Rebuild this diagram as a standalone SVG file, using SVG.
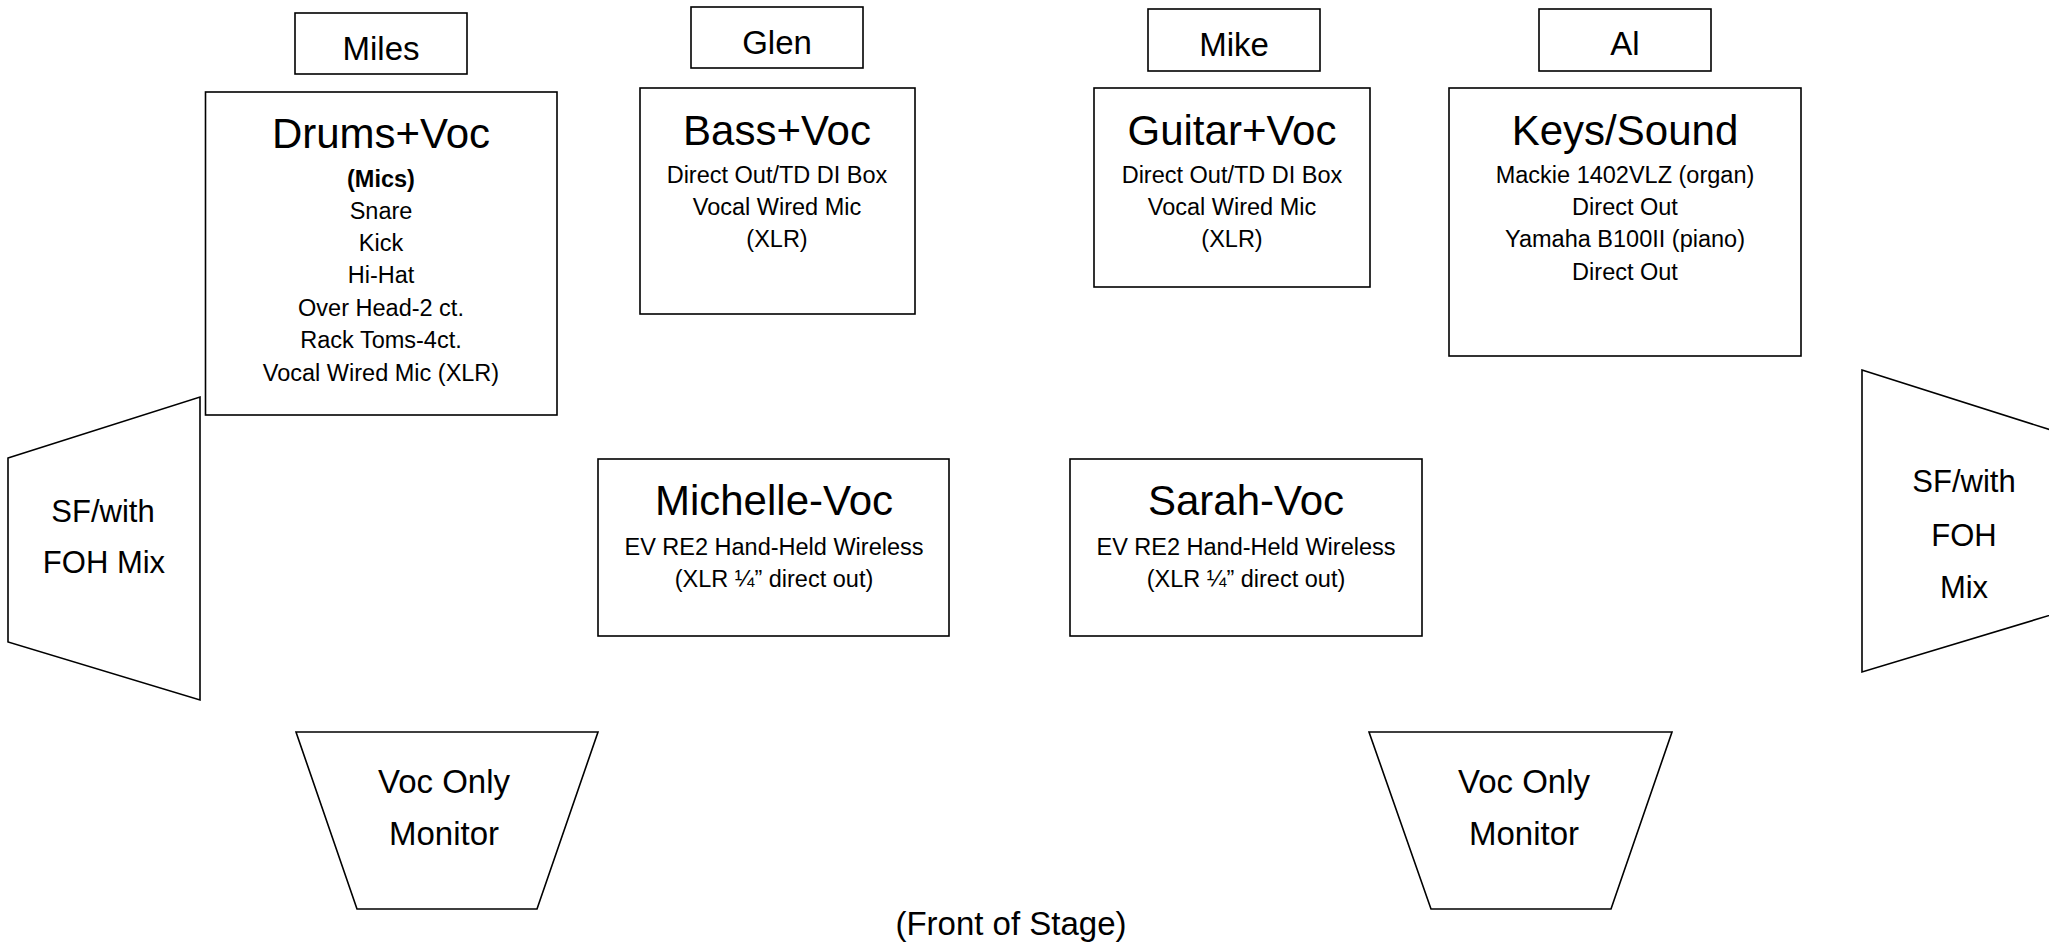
<svg xmlns="http://www.w3.org/2000/svg" width="2049" height="947" viewBox="0 0 2049 947">
<style>
.b{fill:#fff;stroke:#000;stroke-width:1.6}
text{font-family:"Liberation Sans",Arial,sans-serif;fill:#000;text-anchor:middle}
.n{font-size:33px}
.t{font-size:42px}
.s{font-size:23.5px}
.sp{font-size:31px}
.m{font-size:33px}
</style>
<rect width="2049" height="947" fill="#fff"/>
<g id="name-miles"><rect class="b" x="295" y="13" width="172" height="61"/><text class="n" x="381" y="60">Miles</text></g>
<g id="name-glen"><rect class="b" x="691" y="7" width="172" height="61"/><text class="n" x="777" y="54">Glen</text></g>
<g id="name-mike"><rect class="b" x="1148" y="9" width="172" height="62"/><text class="n" x="1234" y="56">Mike</text></g>
<g id="name-al"><rect class="b" x="1539" y="9" width="172" height="62"/><text class="n" x="1625" y="55">Al</text></g>
<g id="drums"><rect class="b" x="205.5" y="92" width="351.5" height="323"/>
<text class="t" x="381" y="148">Drums+Voc</text>
<text class="s" x="381" y="187" font-weight="bold">(Mics)</text>
<text class="s" x="381" y="219">Snare</text>
<text class="s" x="381" y="251">Kick</text>
<text class="s" x="381" y="283">Hi-Hat</text>
<text class="s" x="381" y="316">Over Head-2 ct.</text>
<text class="s" x="381" y="348">Rack Toms-4ct.</text>
<text class="s" x="381" y="381">Vocal Wired Mic (XLR)</text></g>
<g id="bass"><rect class="b" x="640" y="88" width="275" height="226"/>
<text class="t" x="777" y="145">Bass+Voc</text>
<text class="s" x="777" y="183">Direct Out/TD DI Box</text>
<text class="s" x="777" y="215">Vocal Wired Mic</text>
<text class="s" x="777" y="247">(XLR)</text></g>
<g id="guitar"><rect class="b" x="1094" y="88" width="276" height="199"/>
<text class="t" x="1232" y="145">Guitar+Voc</text>
<text class="s" x="1232" y="183">Direct Out/TD DI Box</text>
<text class="s" x="1232" y="215">Vocal Wired Mic</text>
<text class="s" x="1232" y="247">(XLR)</text></g>
<g id="keys"><rect class="b" x="1449" y="88" width="352" height="268"/>
<text class="t" x="1625" y="145">Keys/Sound</text>
<text class="s" x="1625" y="183">Mackie 1402VLZ (organ)</text>
<text class="s" x="1625" y="215">Direct Out</text>
<text class="s" x="1625" y="247">Yamaha B100II (piano)</text>
<text class="s" x="1625" y="280">Direct Out</text></g>
<g id="michelle"><rect class="b" x="598" y="459" width="351" height="177"/>
<text class="t" x="774" y="515">Michelle-Voc</text>
<text class="s" x="774" y="555">EV RE2 Hand-Held Wireless</text>
<text class="s" x="774" y="587">(XLR ¼” direct out)</text></g>
<g id="sarah"><rect class="b" x="1070" y="459" width="352" height="177"/>
<text class="t" x="1246" y="515">Sarah-Voc</text>
<text class="s" x="1246" y="555">EV RE2 Hand-Held Wireless</text>
<text class="s" x="1246" y="587">(XLR ¼” direct out)</text></g>
<g id="sidefill-left"><polygon class="b" points="8,458 200,397 200,700 8,642"/>
<text class="sp" x="103" y="522">SF/with</text>
<text class="sp" x="104" y="573">FOH Mix</text></g>
<g id="sidefill-right"><polygon class="b" points="1862,370 2054,431 2054,614 1862,672"/>
<text class="sp" x="1964" y="492">SF/with</text>
<text class="sp" x="1964" y="546">FOH</text>
<text class="sp" x="1964" y="598">Mix</text></g>
<g id="monitor-left"><polygon class="b" points="296,732 598,732 537,909 357,909"/>
<text class="m" x="444" y="793">Voc Only</text>
<text class="m" x="444" y="845">Monitor</text></g>
<g id="monitor-right"><polygon class="b" points="1369,732 1672,732 1611,909 1431,909"/>
<text class="m" x="1524" y="793">Voc Only</text>
<text class="m" x="1524" y="845">Monitor</text></g>
<g id="connectors"></g>
<text class="m" x="1011" y="935">(Front of Stage)</text>
</svg>
